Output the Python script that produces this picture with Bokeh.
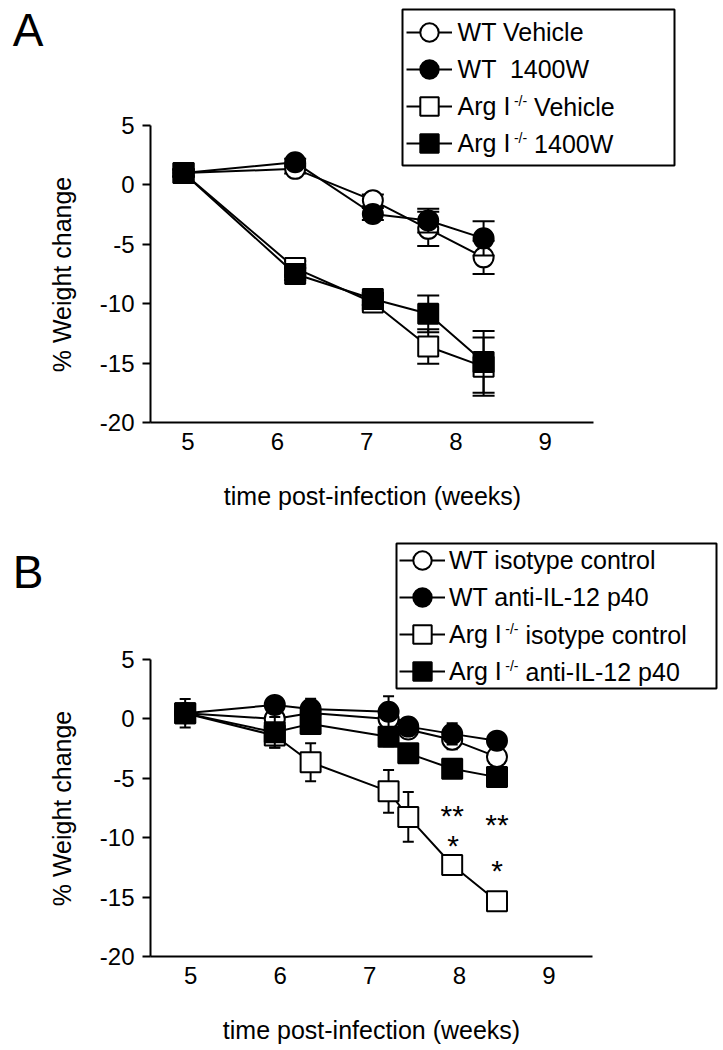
from bokeh.plotting import figure
from bokeh.models import (FixedTicker, Legend, LegendItem, Label, BoxAnnotation, Range1d,
                          LinearAxis)
from bokeh.layouts import column
from bokeh.embed import file_html
from bokeh.resources import INLINE
from bokeh.core.properties import value

FONT = "Liberation Sans"
INK = "black"

# ---------------- data: panel A ----------------
a_weeks = [4.95, 6.20, 7.07, 7.69, 8.31]
a_wt_vehicle = [1.0, 1.35, -1.3, -3.7, -6.1]
a_wt_vehicle_sem = [0.3, 0.4, 0.5, 1.45, 1.4]
a_wt_1400w = [1.0, 1.9, -2.45, -3.0, -4.5]
a_wt_1400w_sem = [0.3, 0.3, 0.5, 1.0, 1.45]
a_arg_vehicle = [1.0, -7.0, -9.9, -13.6, -15.3]
a_arg_vehicle_sem = [0.3, 0.6, 0.6, 1.45, 2.45]
a_arg_1400w = [1.0, -7.5, -9.6, -10.85, -14.9]
a_arg_1400w_sem = [0.3, 0.5, 0.5, 1.55, 2.6]

# ---------------- data: panel B ----------------
b_weeks = [4.94, 5.94, 6.34, 7.21, 7.43, 7.92, 8.42]
b_wt_iso = [0.47, 0.0, 0.5, 0.0, -0.9, -1.75, -3.2]
b_wt_iso_sem = [0.3, 0.5, 0.5, 0.5, 0.5, 0.8, 0.5]
b_wt_p40 = [0.47, 1.18, 0.84, 0.6, -0.65, -1.26, -1.83]
b_wt_p40_sem = [0.3, 0.4, 0.85, 1.3, 0.6, 0.9, 0.5]
b_arg_iso = [0.47, -1.4, -3.65, -6.1, -8.25, -12.3, -15.35]
b_arg_iso_sem = [1.2, 1.0, 1.6, 1.8, 2.1, 0.6, 0.4]
b_arg_p40 = [0.47, -1.13, -0.42, -1.5, -2.9, -4.2, -4.9]
b_arg_p40_sem = [0.3, 1.3, 0.6, 0.8, 0.6, 0.5, 0.6]

star_weeks = [7.92, 7.93, 8.42, 8.42]
star_values = [-7.5, -10.05, -8.3, -12.2]
star_marks = ["**", "*", "**", "*"]

x_ticks = [5, 6, 7, 8, 9]
y_ticks = [-20, -15, -10, -5, 0, 5]
y_tick_labels = ["-20", "-15", "-10", "-5", "0", "5"]
y_axis_extent = (-20, 5)

x_title = "time post-infection (weeks)"
y_title = "% Weight change"

# Liberation Sans (Arial metrics) advance widths, used to place superscripts
ADV = {"A": 0.667, "r": 0.333, "g": 0.556, " ": 0.278, "I": 0.278,
       "-": 0.333, "/": 0.278}


def text_width(s, size):
    return sum(ADV.get(c, 0.556) for c in s) * size


FRAME_LEFT = 150          # page x of the y axis
PX_PER_UNIT_Y = 297 / 25  # pixels per % weight change
FIG_W = 721


def plain_axis(ax, size):
    ax.axis_line_color = None
    ax.major_tick_line_color = None
    ax.minor_tick_line_color = None
    ax.major_label_text_font = FONT
    ax.major_label_text_font_size = size
    ax.major_label_text_color = INK


def make_panel(page_top, height, frame_bottom_page, x_start, px_per_week, axis_right_page,
               weeks, series, cap, letter, letter_page, leg):
    frame_h = frame_bottom_page - page_top
    frame_w = FIG_W - FRAME_LEFT
    y_end = y_axis_extent[0] + frame_h / PX_PER_UNIT_Y
    x_end = x_start + frame_w / px_per_week
    x_axis_end = x_start + (axis_right_page - FRAME_LEFT) / px_per_week
    y_axis_top_page = frame_bottom_page - (y_axis_extent[1] - y_axis_extent[0]) * PX_PER_UNIT_Y

    p = figure(width=FIG_W, height=height,
               x_range=Range1d(x_start, x_end), y_range=Range1d(y_axis_extent[0], y_end),
               min_border_left=FRAME_LEFT, min_border_right=0,
               min_border_top=0, min_border_bottom=height - frame_h,
               output_backend="svg", toolbar_location=None, tools="")
    p.outline_line_color = None
    p.xgrid.visible = False
    p.ygrid.visible = False
    p.background_fill_color = "white"
    p.border_fill_color = "white"

    # main axes (lines limited to the data extent)
    p.xaxis.ticker = FixedTicker(ticks=x_ticks)
    p.xaxis.bounds = (x_start, x_axis_end)
    p.xaxis.major_tick_line_color = None
    p.xaxis.minor_tick_line_color = None
    p.xaxis.major_label_standoff = 4
    p.yaxis.ticker = FixedTicker(ticks=y_ticks)
    p.yaxis.major_label_overrides = dict(zip(y_ticks, y_tick_labels))
    p.yaxis.bounds = y_axis_extent
    p.yaxis.major_tick_out = 8
    p.yaxis.major_tick_in = 0
    p.yaxis.minor_tick_line_color = None
    p.yaxis.major_label_standoff = 8
    for ax in (p.xaxis, p.yaxis):
        ax.axis_line_width = 2
        ax.axis_line_color = INK
        ax.major_tick_line_width = 2
        ax.major_label_text_font = FONT
        ax.major_label_text_font_size = "24px"
        ax.major_label_text_color = INK
    p.xaxis.major_tick_line_color = None
    p.yaxis.major_tick_line_color = INK

    # pixel ranges for the axis titles and the panel letter
    p.extra_y_ranges = {"px": Range1d(0, frame_h)}
    p.extra_x_ranges = {"px": Range1d(0, frame_w)}

    # x title, centred under the drawn x axis
    tx = int(round((FRAME_LEFT + axis_right_page) / 2 - FRAME_LEFT))
    xt = LinearAxis(x_range_name="px", ticker=FixedTicker(ticks=[tx]),
                    major_label_overrides={tx: x_title}, major_label_standoff=23)
    plain_axis(xt, "25px")
    p.add_layout(xt, "below")

    # y title, centred beside the drawn y axis
    ty = int(round(frame_bottom_page - (y_axis_top_page + frame_bottom_page) / 2))
    yt = LinearAxis(y_range_name="px", ticker=FixedTicker(ticks=[ty]),
                    major_label_overrides={ty: y_title}, major_label_orientation="vertical",
                    major_label_standoff=15)
    plain_axis(yt, "25px")
    p.add_layout(yt, "left")

    # panel letter
    tl = int(round(frame_bottom_page - letter_page[1]))
    lax = LinearAxis(y_range_name="px", ticker=FixedTicker(ticks=[tl]),
                     major_label_overrides={tl: letter}, major_label_standoff=letter_page[0])
    plain_axis(lax, "46px")
    p.add_layout(lax, "left")

    # connecting lines first
    lines = []
    for s in series:
        lines.append(p.line(weeks, s["y"], line_color=INK, line_width=2))

    # error bars and markers: open symbols first, filled symbols on top
    markers = [None] * len(series)
    order = [i for i, s in enumerate(series) if s["fill"] == "white"] + \
            [i for i, s in enumerate(series) if s["fill"] != "white"]
    for i in order:
        s = series[i]
        lo = [v - e for v, e in zip(s["y"], s["sem"])]
        hi = [v + e for v, e in zip(s["y"], s["sem"])]
        p.segment(x0=weeks, y0=lo, x1=weeks, y1=hi, line_color=INK, line_width=2)
        p.scatter(x=list(weeks) + list(weeks), y=lo + hi, marker="dash", size=cap,
                  line_color=INK, line_width=2)
        markers[i] = p.scatter(x=weeks, y=s["y"], marker=s["marker"], size=20,
                               fill_color=s["fill"], line_color=INK, line_width=2)

    # legend box
    bx0, by0, bx1, by1 = leg["box"]
    p.add_layout(BoxAnnotation(left=bx0 - FRAME_LEFT, right=bx1 - FRAME_LEFT,
                               top=frame_bottom_page - by0, bottom=frame_bottom_page - by1,
                               left_units="screen", right_units="screen",
                               top_units="screen", bottom_units="screen",
                               fill_color="white", fill_alpha=1.0,
                               line_color=INK, line_width=2, line_alpha=1.0))

    # one legend per row so that the row pitch can be tighter than the glyph box
    gw = 46
    pitch = 37
    text_left = leg["glyph_left"] + gw + leg["standoff"]
    for i, s in enumerate(series):
        yc = leg["row1"] + i * pitch
        legend = Legend(items=[LegendItem(label=s["label"], renderers=[lines[i], markers[i]])],
                        location=(leg["glyph_left"] - FRAME_LEFT,
                                  frame_bottom_page - (yc + gw / 2)),
                        orientation="vertical", padding=0, margin=0, spacing=0,
                        glyph_width=gw, glyph_height=gw, label_standoff=leg["standoff"],
                        label_text_font=FONT, label_text_font_size="25px",
                        label_text_color=INK, border_line_color=None,
                        background_fill_alpha=0.0)
        p.add_layout(legend)
        if not s["sup"]:
            continue
        x_sup = text_left + text_width(s["label"], 25) + 3
        p.add_layout(Label(x=x_sup - FRAME_LEFT, y=frame_bottom_page - (yc - 6),
                           x_units="screen", y_units="screen", text=s["sup"],
                           text_font=FONT, text_font_size="14px", text_color=INK,
                           text_baseline="middle", text_align="left"))
        x_rest = x_sup + text_width(s["sup"], 14) + 7
        p.add_layout(Label(x=x_rest - FRAME_LEFT, y=frame_bottom_page - yc,
                           x_units="screen", y_units="screen", text=s["rest"],
                           text_font=FONT, text_font_size="25px", text_color=INK,
                           text_baseline="middle", text_align="left"))
    return p


series_a = [
    dict(label="WT Vehicle", sup="", rest="", y=a_wt_vehicle, sem=a_wt_vehicle_sem,
         marker="circle", fill="white"),
    dict(label="WT  1400W", sup="", rest="", y=a_wt_1400w, sem=a_wt_1400w_sem,
         marker="circle", fill=INK),
    dict(label="Arg I", sup="-/-", rest="Vehicle", y=a_arg_vehicle, sem=a_arg_vehicle_sem,
         marker="square", fill="white"),
    dict(label="Arg I", sup="-/-", rest="1400W", y=a_arg_1400w, sem=a_arg_1400w_sem,
         marker="square", fill=INK),
]
series_b = [
    dict(label="WT isotype control", sup="", rest="", y=b_wt_iso, sem=b_wt_iso_sem,
         marker="circle", fill="white"),
    dict(label="WT anti-IL-12 p40", sup="", rest="", y=b_wt_p40, sem=b_wt_p40_sem,
         marker="circle", fill=INK),
    dict(label="Arg I", sup="-/-", rest="isotype control", y=b_arg_iso, sem=b_arg_iso_sem,
         marker="square", fill="white"),
    dict(label="Arg I", sup="-/-", rest="anti-IL-12 p40", y=b_arg_p40, sem=b_arg_p40_sem,
         marker="square", fill=INK),
]

pa = make_panel(0, 522, 422, 4.58, 89.3, 593, a_weeks, series_a, 22, "A", (-5, 29),
                dict(box=(402, 9, 674, 165), glyph_left=405.6, row1=32.3, standoff=6))
pb = make_panel(522, 526, 956, 4.553, 89.6, 592, b_weeks, series_b, 11, "B", (-5, 571),
                dict(box=(396, 543, 716, 688), glyph_left=399, row1=560, standoff=4))

pb.text(x=star_weeks, y=star_values, text=star_marks, text_font=value(FONT),
        text_font_size="30px", text_align="center", text_baseline="middle",
        text_color=INK, y_offset=7)

layout = column(pa, pb, spacing=0)
open("out.html", "w").write(file_html(layout, INLINE))
